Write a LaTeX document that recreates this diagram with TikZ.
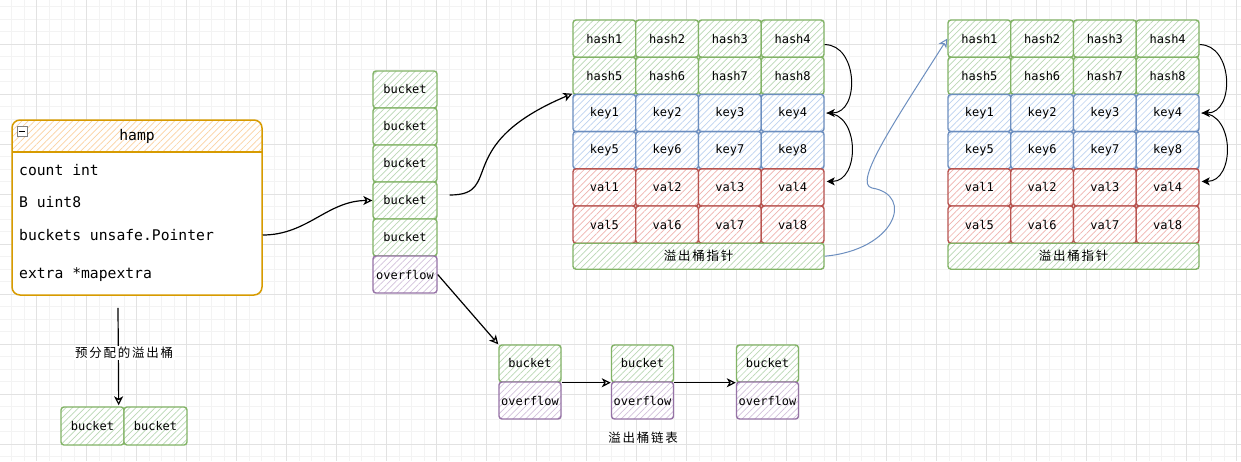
\documentclass[tikz,border=0pt]{standalone}
\usepackage{fontspec}
\setmonofont{DejaVu Sans Mono}
\newfontfamily\cjk[LetterSpace=14]{Noto Sans CJK SC}
\usetikzlibrary{arrows.meta,patterns.meta}
\definecolor{gS}{HTML}{82B366}\definecolor{gH}{HTML}{BAD8B5}
\definecolor{bS}{HTML}{6C8EBF}\definecolor{bH}{HTML}{BDD2F0}
\definecolor{rS}{HTML}{B85450}\definecolor{rH}{HTML}{EFB3AF}
\definecolor{pS}{HTML}{9673A6}\definecolor{pH}{HTML}{D3C2DC}
\definecolor{oS}{HTML}{D79B00}\definecolor{oH}{HTML}{FBD2A2}
\definecolor{gridmin}{HTML}{F3F3F3}\definecolor{gridmaj}{HTML}{E2E2E2}
\newcommand\cellfont{\ttfamily\fontsize{12}{12}\selectfont}
\newcommand\hampfont{\ttfamily\fontsize{14.7}{15}\selectfont}
\newcommand\cjkfont{\cjk\fontsize{12.5}{13}\selectfont}
\tikzset{
  cellbase/.style={draw, line width=1.4pt, rounded corners=3pt, minimum width=62.75pt,
    minimum height=37.2pt, inner sep=0pt, font=\cellfont, preaction={fill=white},
    pattern={Lines[angle=45,distance=4.5pt,line width=0.7pt]}},
  gcell/.style={cellbase, draw=gS, pattern color=gH},
  bcell/.style={cellbase, draw=bS, pattern color=bH},
  rcell/.style={cellbase, draw=rS, pattern color=rH},
  pcell/.style={cellbase, draw=pS, pattern color=pH},
  arr/.style={line width=1.2pt, -{Stealth[open, length=9pt, width=9pt, inset=2.5pt]}},
  arcarr/.style={line width=1pt, -{Stealth[length=8pt, width=8pt, inset=2pt]}},
  fieldtxt/.style={anchor=west, inner sep=0pt, font=\hampfont},
  gridminor/.style={draw=gridmin, line width=0.9pt},
  gridmajor/.style={draw=gridmaj, line width=0.9pt},
}
\newcommand\hashblock[2]{%
  \foreach \cc in {1,...,4} {
    \pgfmathtruncatemacro\idx{\cc+4}
    \node[gcell] (#2-hash\cc) at ({#1+31.375+62.75*(\cc-1)},38.6) {hash\cc};
    \node[gcell] (#2-hash\idx) at ({#1+31.375+62.75*(\cc-1)},75.8) {hash\idx};
    \node[bcell] (#2-key\cc) at ({#1+31.375+62.75*(\cc-1)},113) {key\cc};
    \node[bcell] (#2-key\idx) at ({#1+31.375+62.75*(\cc-1)},150.2) {key\idx};
    \node[rcell] (#2-val\cc) at ({#1+31.375+62.75*(\cc-1)},187.4) {val\cc};
    \node[rcell] (#2-val\idx) at ({#1+31.375+62.75*(\cc-1)},224.6) {val\idx};
  }
  \node[gcell, minimum width=251pt, minimum height=26pt, font=\cjkfont] (#2-ptr) at ({#1+125.5},256.2) {溢出桶指针};
  \draw[arcarr] ([yshift=-6pt]#2-hash4.east) to[out=0, in=0, looseness=1.25] ([xshift=2pt]#2-key4.east);
  \draw[arcarr] ([xshift=2pt]#2-key4.east) to[out=0, in=0, looseness=1.25] ([xshift=2pt,yshift=6pt]#2-val4.east);
}
\begin{document}
\begin{tikzpicture}[x=1pt, y=-1pt]
\useasboundingbox (0,0) rectangle (1241,461);
\fill[white] (0,0) rectangle (1241,461);
% grid
\foreach \x in {11.7,24.2,...,1241} \draw[gridminor] (\x,0) -- (\x,461);
\foreach \y in {6.8,19.3,...,461} \draw[gridminor] (0,\y) -- (1241,\y);
\foreach \x in {36.7,86.7,...,1241} \draw[gridmajor] (\x,0) -- (\x,461);
\foreach \y in {44.3,94.3,...,461} \draw[gridmajor] (0,\y) -- (1241,\y);

% hamp struct
\fill[white, rounded corners=8pt] (12,120) rectangle (262,295);
\path[pattern={Lines[angle=45,distance=4.5pt,line width=0.7pt]}, pattern color=oH]
  (12,152) [rounded corners=8pt] -- (12,120) -- (262,120) [sharp corners] -- (262,152) -- cycle;
\node[draw=oS, line width=1.5pt, rounded corners=8pt, minimum width=250pt, minimum height=175pt, inner sep=0pt] (hamp) at (137,207.5) {};
\draw[oS, line width=1.3pt] (12,152) -- (262,152);
\node[draw=gray, line width=0.6pt, fill=white, minimum size=10pt, inner sep=0pt] (mini) at (22,131) {};
\draw[black, line width=0.8pt] ([xshift=2pt]mini.west) -- ([xshift=-2pt]mini.east);
\node[inner sep=0pt, font=\hampfont] (htitle) at (137,136) {hamp};
\node[fieldtxt] (fcount) at (19,170) {count int};
\node[fieldtxt] (fb) at (19,202) {B uint8};
\node[fieldtxt] (fbk) at (19,235) {buckets unsafe.Pointer};
\node[fieldtxt] (fextra) at (19,275) {extra *mapextra};

% bucket column
\node[gcell, minimum width=64pt, minimum height=37pt] (bk1) at (405,89.5) {bucket};
\node[gcell, minimum width=64pt, minimum height=37pt] (bk2) at (405,126.5) {bucket};
\node[gcell, minimum width=64pt, minimum height=37pt] (bk3) at (405,163.5) {bucket};
\node[gcell, minimum width=64pt, minimum height=37pt] (bk4) at (405,200.5) {bucket};
\node[gcell, minimum width=64pt, minimum height=37pt] (bk5) at (405,237.5) {bucket};
\node[pcell, minimum width=64pt, minimum height=37pt] (bk6) at (405,274.5) {overflow};

% hash blocks
\hashblock{573}{A}
\hashblock{948}{B}

% chain
\node[gcell, minimum width=62pt, minimum height=37pt] (c1b) at (530,363.5) {bucket};
\node[pcell, minimum width=62pt, minimum height=37pt] (c1o) at (530,400.5) {overflow};
\node[gcell, minimum width=62pt, minimum height=37pt] (c2b) at (642.5,363.5) {bucket};
\node[pcell, minimum width=62pt, minimum height=37pt] (c2o) at (642.5,400.5) {overflow};
\node[gcell, minimum width=62pt, minimum height=37pt] (c3b) at (767.5,363.5) {bucket};
\node[pcell, minimum width=62pt, minimum height=37pt] (c3o) at (767.5,400.5) {overflow};
\node[inner sep=0pt, font=\cjkfont] (chainlbl) at (643,438) {溢出桶链表};

% preallocated
\node[gcell, minimum width=63pt, minimum height=38pt] (p1) at (92.5,426) {bucket};
\node[gcell, minimum width=63pt, minimum height=38pt] (p2) at (155.5,426) {bucket};

% connectors
\draw[arr] (hamp.east |- fbk.east) to[out=0, in=180] (bk4.west);
\draw[arr] ([xshift=12pt,yshift=5.5pt]bk4.east) .. controls (505,195) and (450,145) .. (A-key1.north west);
\draw[arr] (bk6.east) -- (c1b.north west);
\draw[arr] (c1b.south east) -- (c2b.south west);
\draw[arr] (c2b.south east) -- (c3b.south west);
\draw[arr] ([xshift=-19pt,yshift=-12pt]hamp.south) -- ([xshift=-6pt,yshift=1pt]p1.north east);
\node[fill=white, inner sep=1.5pt, font=\cjkfont] (plbl) at (124,353) {预分配的溢出桶};
\draw[bS, line width=1pt, -{Stealth[open, length=9pt, width=9pt, inset=2.5pt]}]
  (A-ptr.east) .. controls (895,250) and (915,195) .. (872,188)
  .. controls (852,184) and (897,118) .. (B-hash1.west);
\end{tikzpicture}
\end{document}
